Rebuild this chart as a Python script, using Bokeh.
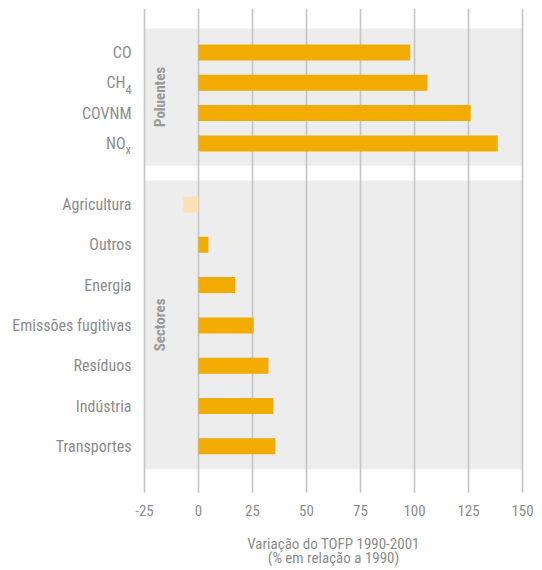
import math
from bokeh.plotting import figure
from bokeh.models import ColumnDataSource, Range1d
from bokeh.core.properties import value
from bokeh.embed import file_html
from bokeh.resources import INLINE

# ---- data ----
pollutant_main = ["CO", "CH", "COVNM", "NO"]
pollutant_sub = ["", "4", "", "x"]
pollutant_values = [98, 106, 126, 138.5]

sectors = ["Agricultura", "Outros", "Energia", "Emissões fugitivas",
           "Resíduos", "Indústria", "Transportes"]
sector_values = [-7, 4.6, 17, 25.5, 32.4, 34.7, 35.6]

group_names = ["Poluentes", "Sectores"]
x_ticks = [-25, 0, 25, 50, 75, 100, 125, 150]
x_tick_labels = ["-25", "0", "25", "50", "75", "100", "125", "150"]
x_title = ["Variação do TOFP 1990-2001", "(% em relação a 1990)"]

# ---- style ----
FONT = "Roboto Condensed, Roboto"
TEXT = "#8c8c8c"
BAR = "#f2ab00"
BAR_NEG = "#fde0b6"
BAND = "#ededed"
GRID = "#c4c4c4"

# vertical layout in screen-like units (top of frame = 8)
Y_TOP, Y_BOT = 8, 568
GRID_BOT = 492
pol_y = [52 + 30.3 * i for i in range(len(pollutant_main))]
sec_y = [204 + 40.3 * i for i in range(len(sectors))]
bands = [(pol_y[0] - 24, pol_y[-1] + 22), (sec_y[0] - 24, sec_y[-1] + 23)]
PX = 2.16  # pixels per unit on the x scale
X_LEFT = x_ticks[0] - 136 / PX   # room for category labels
X_RIGHT = x_ticks[-1] + 14 / PX  # room for the last tick label

p = figure(frame_width=528, frame_height=560,
           x_range=Range1d(X_LEFT, X_RIGHT),
           y_range=Range1d(Y_BOT, Y_TOP),
           output_backend="svg", toolbar_location=None,
           min_border_left=8, min_border_right=0,
           min_border_top=8, min_border_bottom=0)
p.outline_line_color = None
p.background_fill_color = "white"
p.border_fill_color = "white"
p.grid.visible = False
p.axis.visible = False

# bands
p.quad(left=x_ticks[0], right=x_ticks[-1],
       top=[b[0] for b in bands], bottom=[b[1] for b in bands],
       fill_color=BAND, line_color=None)

# grid lines
p.segment(x0=x_ticks, x1=x_ticks, y0=GRID_BOT, y1=Y_TOP,
          line_color=GRID, line_width=1.6)

# bars
all_vals = pollutant_values + sector_values
all_y = pol_y + sec_y
colors = [BAR if v >= 0 else BAR_NEG for v in all_vals]
bsrc = ColumnDataSource(dict(y=all_y, right=all_vals, color=colors))
p.hbar(y="y", left=0, right="right", height=16, fill_color="color",
       line_color=None, source=bsrc)

# category labels
lsrc = ColumnDataSource(dict(
    x=[x_ticks[0]] * len(all_y),
    y=all_y,
    text=pollutant_main + sectors,
    off=[-19 if s else -13 for s in pollutant_sub] + [-13] * len(sectors)))
p.text(x="x", y="y", text="text", x_offset="off", source=lsrc,
       text_align="right", text_baseline="middle",
       text_font=value(FONT), text_font_size="16px", text_color=TEXT)

sub_txt = [s for s in pollutant_sub if s]
sub_y = [yy + 6.5 for s, yy in zip(pollutant_sub, pol_y) if s]
p.text(x=[x_ticks[0]] * len(sub_txt), y=sub_y, text=sub_txt, x_offset=-19,
       text_align="left", text_baseline="middle",
       text_font=value(FONT), text_font_size="12.5px", text_color=TEXT)

# group labels
p.text(x=[x_ticks[0]] * 2, y=[(t + b) / 2 for t, b in bands],
       text=group_names, x_offset=15, angle=math.pi / 2,
       text_align="center", text_baseline="middle",
       text_font=value(FONT), text_font_style="bold",
       text_font_size="15px", text_color="#999999")

# x tick labels
p.text(x=x_ticks, y=[GRID_BOT + 18] * len(x_ticks), text=x_tick_labels,
       text_align="center", text_baseline="middle",
       text_font=value(FONT), text_font_size="15px", text_color=TEXT)

# x axis title
xc = (x_ticks[0] + x_ticks[-1]) / 2
p.text(x=[xc, xc], y=[GRID_BOT + 51, GRID_BOT + 65], text=x_title,
       text_align="center", text_baseline="middle",
       text_font=value(FONT), text_font_size="15px", text_color=TEXT)

open("out.html", "w").write(file_html(p, INLINE))
